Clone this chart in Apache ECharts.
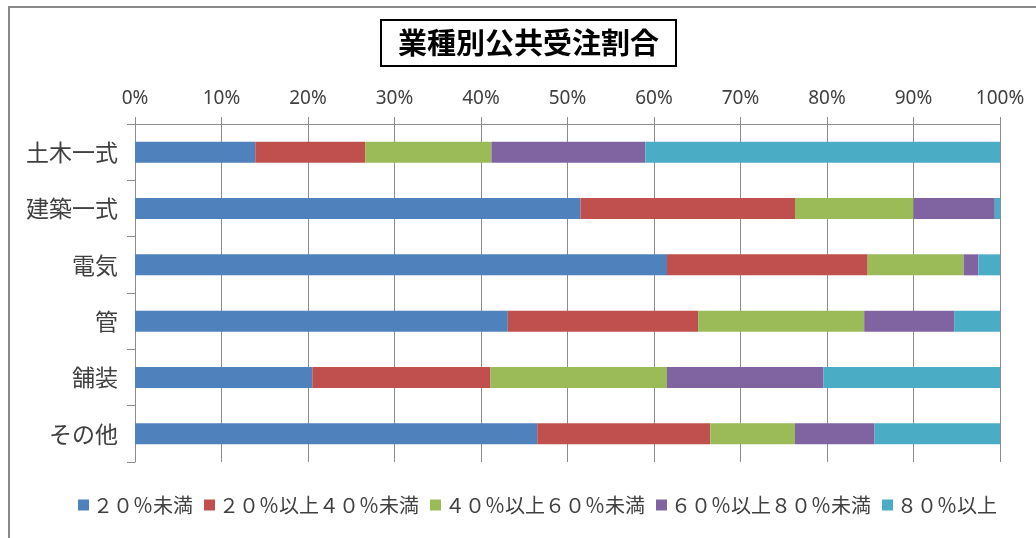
<!DOCTYPE html>
<html>
<head>
<meta charset="utf-8">
<script src="https://cdn.jsdelivr.net/npm/echarts@6/dist/echarts.min.js"></script>
<style>
  html, body { margin: 0; padding: 0; background: #fff; }
  #chart { width: 1036px; height: 538px; }
</style>
</head>
<body>
<div id="chart"></div>
<script>
// 業種ごとの公共受注割合（％）
const categories = ['土木一式', '建築一式', '電気', '管', '舗装', 'その他'];
const seriesNames = ['２０％未満', '２０％以上４０％未満', '４０％以上６０％未満', '６０％以上８０％未満', '８０％以上'];
const under20    = [13.9, 51.5, 61.5, 43.1, 20.5, 46.5];
const from20to40 = [12.7, 24.8, 23.2, 22.0, 20.6, 20.0];
const from40to60 = [14.6, 13.7, 11.1, 19.2, 20.4, 9.8];
const from60to80 = [17.8, 9.4, 1.7, 10.4, 18.1, 9.2];
const over80     = [41.0, 0.6, 2.5, 5.3, 20.4, 14.5];
const xTicks = [0, 10, 20, 30, 40, 50, 60, 70, 80, 90, 100];

const colors = ['#4F81BD', '#C0504D', '#9BBB59', '#8064A2', '#4BACC6'];
const values = [under20, from20to40, from40to60, from60to80, over80];
const gray = '#8C8C8C';
const cjk = '"Noto Sans CJK JP", "Noto Sans", sans-serif';

const chart = echarts.init(document.getElementById('chart'), null, { renderer: 'canvas' });

chart.setOption({
  animation: false,
  backgroundColor: '#ffffff',
  title: {
    text: '業種別公共受注割合',
    left: 381,
    top: 20,
    padding: [7, 17, 7, 17],
    borderColor: '#000000',
    borderWidth: 2,
    textStyle: {
      fontFamily: cjk,
      fontSize: 29,
      lineHeight: 32,
      fontWeight: 'bold',
      color: '#000000'
    }
  },
  graphic: [{
    type: 'polyline',
    shape: { points: [[9, 540], [9, 7], [1040, 7]] },
    style: { stroke: '#8a8a8a', lineWidth: 2, fill: null },
    silent: true
  }],
  legend: {
    bottom: 18,
    left: 73,
    itemWidth: 11,
    itemHeight: 11,
    itemGap: 11,
    icon: 'rect',
    data: seriesNames,
    textStyle: {
      fontFamily: cjk,
      fontSize: 20,
      color: '#404040',
      padding: [0, 0, 0, -1]
    }
  },
  grid: { left: 135, right: 36, top: 124, bottom: 76 },
  xAxis: {
    type: 'value',
    position: 'top',
    min: xTicks[0],
    max: xTicks[xTicks.length - 1],
    interval: xTicks[1] - xTicks[0],
    axisLine: { show: true, lineStyle: { color: gray, width: 1 } },
    axisTick: { show: true, length: 7, lineStyle: { color: gray } },
    splitLine: { show: true, lineStyle: { color: gray, width: 1 } },
    axisLabel: {
      formatter: '{value}%',
      margin: 16,
      fontFamily: '"Noto Sans", sans-serif',
      fontSize: 19,
      color: '#404040'
    }
  },
  yAxis: {
    type: 'category',
    inverse: true,
    data: categories,
    axisLine: { show: true, lineStyle: { color: gray, width: 1 } },
    axisTick: { show: true, length: 8, lineStyle: { color: gray } },
    axisLabel: {
      margin: 17,
      fontFamily: cjk,
      fontSize: 23,
      color: '#404040'
    }
  },
  series: seriesNames.map((name, i) => ({
    name: name,
    type: 'bar',
    stack: 'total',
    barWidth: 21,
    itemStyle: { color: colors[i] },
    data: values[i]
  }))
});
</script>
</body>
</html>
